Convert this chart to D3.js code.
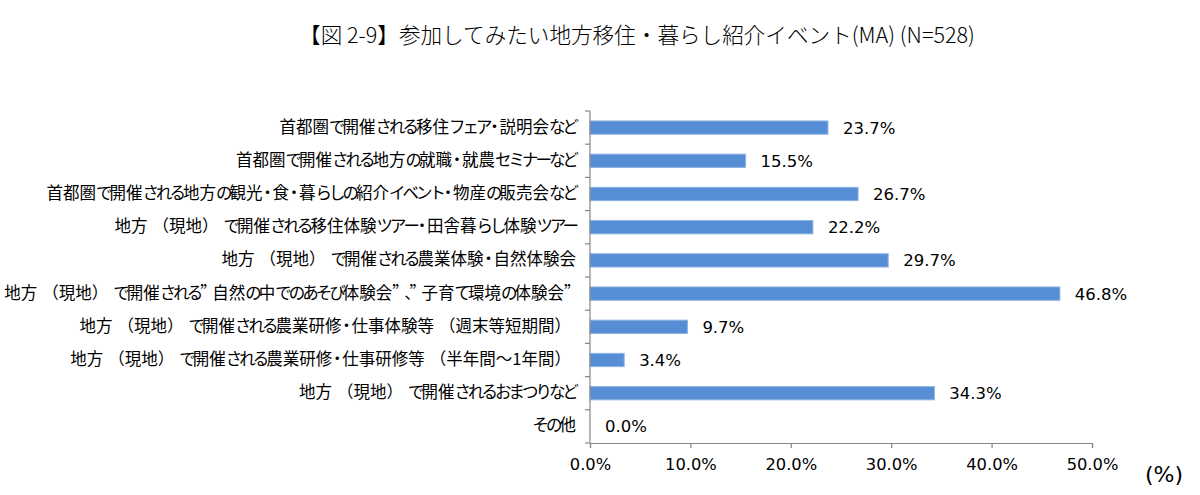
<!DOCTYPE html>
<html><head><meta charset="utf-8">
<script src="https://cdn.jsdelivr.net/npm/d3@7"></script>
<style>body{margin:0;background:#fff}</style>
</head><body><svg id="c" width="1200" height="495"></svg>
<script>
const titleText = "【図 2-9】参加してみたい地方移住・暮らし紹介イベント(MA) (N=528)";
const categories = [
  "首都圏で開催される移住フェア・説明会など",
  "首都圏で開催される地方の就職・就農セミナーなど",
  "首都圏で開催される地方の観光・食・暮らしの紹介イベント・物産の販売会など",
  "地方（現地）で開催される移住体験ツアー・田舎暮らし体験ツアー",
  "地方（現地）で開催される農業体験・自然体験会",
  "地方（現地）で開催される”自然の中でのあそび体験会”、”子育て環境の体験会”",
  "地方（現地）で開催される農業研修・仕事体験等（週末等短期間）",
  "地方（現地）で開催される農業研修・仕事研修等（半年間～1年間）",
  "地方（現地）で開催されるおまつりなど",
  "その他"
];
const values = [23.7, 15.5, 26.7, 22.2, 29.7, 46.8, 9.7, 3.4, 34.3, 0.0];
const xTicks = [0, 10, 20, 30, 40, 50];
const unitLabel = "(%)";

const svg = d3.select("#c");
const m = {left: 590, right: 1092, top: 111, bottom: 443};
const x = d3.scaleLinear().domain([0, 50]).range([m.left, m.right]);
const y = d3.scaleBand().domain(categories).range([m.top, m.bottom]).paddingInner(0.6).paddingOuter(0.3);
const yb = d3.scaleBand().domain(categories).range([m.top, m.bottom]);

svg.append("text").attr("x", 637).attr("y", 43).attr("text-anchor", "middle")
  .style("font-family", "'Noto Sans CJK JP'").style("font-size", "21.6px").style("font-weight", 300)
  .attr("fill", "#000").text(titleText);

// bars
svg.selectAll("rect.bar").data(values).join("rect").attr("class", "bar")
  .attr("x", x(0)).attr("y", (d, i) => y(categories[i]))
  .attr("width", d => x(d) - x(0)).attr("height", y.bandwidth())
  .attr("fill", "#558ed5").attr("stroke", "#8db3e2").attr("stroke-width", 1);

// value labels
svg.selectAll("text.val").data(values).join("text").attr("class", "val")
  .attr("x", d => x(d) + 15).attr("y", (d, i) => yb(categories[i]) + yb.bandwidth() / 2 + 1.5)
  .attr("dominant-baseline", "middle")
  .style("font-family", "'DejaVu Sans'").style("font-size", "16.5px").attr("fill", "#000")
  .text(d => d.toFixed(1) + "%");

// y axis
const yAxis = svg.append("g");
yAxis.append("line").attr("x1", x(0)).attr("x2", x(0)).attr("y1", m.top).attr("y2", m.bottom)
  .attr("stroke", "#868686").attr("stroke-width", 1.2);
const bounds = categories.map(c => yb(c)).concat([m.bottom]);
yAxis.selectAll("line.t").data(bounds).join("line").attr("class", "t")
  .attr("x1", x(0) - 5).attr("x2", x(0)).attr("y1", d => d).attr("y2", d => d)
  .attr("stroke", "#868686").attr("stroke-width", 1.2);

// label text: kana set slightly condensed (UI-style Japanese font)
function charClass(ch) {
  if (ch === "”") return "q";
  if (ch === "・") return "dot";
  if (ch === "（") return "po";
  if (ch === "）") return "pc";
  if (/[\u3040-\u30ff\u3001]/.test(ch)) return "kana";
  return "o";
}
const after = {q: -4.5, dot: -3.25, kana: -3, o: 0, po: 0, pc: 5};
const before = {dot: -3.25, po: 5};
const labels = yAxis.selectAll("text").data(categories).join("text")
  .attr("x", x(0) - 14).attr("y", c => yb(c) + yb.bandwidth() / 2 + 1)
  .attr("text-anchor", "end").attr("dominant-baseline", "middle")
  .style("font-family", "'Noto Sans CJK JP'").style("font-size", "16.5px").attr("fill", "#000");
labels.each(function(c) {
  const t = d3.select(this);
  const chars = Array.from(c).map(ch => ({ch, k: charClass(ch)}));
  chars.forEach(o => o.sp = after[o.k]);
  chars.forEach((o, i) => { if (before[o.k] && i > 0) chars[i - 1].sp += before[o.k]; });
  const runs = [];
  chars.forEach(o => {
    const fw = o.k === "q";
    const last = runs[runs.length - 1];
    if (last && last.sp === o.sp && last.fw === fw) last.s += o.ch;
    else runs.push({s: o.ch, sp: o.sp, fw});
  });
  runs.forEach(r => {
    const ts = t.append("tspan").text(r.s).style("letter-spacing", r.sp + "px");
    if (r.fw) ts.style("font-feature-settings", "'fwid'");
  });
});

// x axis
const xAxis = svg.append("g").attr("transform", `translate(0,${m.bottom})`)
  .call(d3.axisBottom(x).tickValues(xTicks).tickSize(5).tickPadding(10).tickFormat(d => d.toFixed(1) + "%"));
xAxis.select(".domain").attr("stroke", "#868686").attr("stroke-width", 1.2);
xAxis.selectAll(".tick line").attr("stroke", "#868686").attr("stroke-width", 1.2);
xAxis.selectAll(".tick text").style("font-family", "'DejaVu Sans'").style("font-size", "16.3px").attr("fill", "#000");

svg.append("text").attr("x", 1164).attr("y", 482).attr("text-anchor", "middle")
  .style("font-family", "'DejaVu Sans'").style("font-size", "22px").attr("fill", "#000").text(unitLabel);
</script></body></html>
